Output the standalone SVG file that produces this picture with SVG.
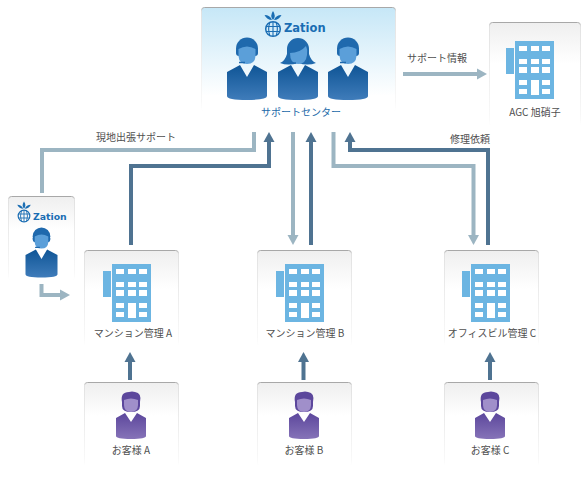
<svg xmlns="http://www.w3.org/2000/svg" xmlns:xlink="http://www.w3.org/1999/xlink" width="586" height="479" viewBox="0 0 586 479">
<style>
text{font-family:"Noto Sans CJK JP","Liberation Sans",sans-serif;font-size:10px;fill:#4f4f4f;text-anchor:middle}
text.logo{font-family:"DejaVu Sans",sans-serif;font-weight:bold;fill:#1a6db3;text-anchor:start}
.l{fill:none;stroke:#9cb5c2;stroke-width:4}
.d{fill:none;stroke:#4f7391;stroke-width:4}
.lh{fill:#9cb5c2}
.dh{fill:#4f7391}
.w{fill:#fff}
</style>
<defs>
<linearGradient id="card" x1="0" y1="0" x2="0" y2="1"><stop offset="0" stop-color="#efefef"/><stop offset=".4" stop-color="#fff"/></linearGradient>
<linearGradient id="edge" x1="0" y1="0" x2="0" y2="1"><stop offset="0" stop-color="#a8a8a8"/><stop offset=".04" stop-color="#e2e2e2"/><stop offset=".9" stop-color="#f8f8f8"/><stop offset="1" stop-color="#fff"/></linearGradient>
<linearGradient id="blue" x1="0" y1="0" x2="0" y2="1"><stop offset="0" stop-color="#c6e7f7"/><stop offset=".85" stop-color="#fff"/></linearGradient>
<linearGradient id="bb" x1="0" y1="0" x2="0" y2="1"><stop offset="0" stop-color="#0f5596"/><stop offset="1" stop-color="#3f7cba"/></linearGradient>
<linearGradient id="pb" x1="0" y1="0" x2="0" y2="1"><stop offset="0" stop-color="#5c479c"/><stop offset="1" stop-color="#8673b8"/></linearGradient>
<g id="bld">
<rect x="-9" y="7" width="8" height="26" fill="#6cb5e2"/>
<rect width="39" height="58" fill="#6cb5e2"/>
<g class="w">
<rect x="4" y="5" width="8" height="5"/><rect x="16" y="5" width="8" height="5"/><rect x="27" y="5" width="8" height="5"/>
<rect x="4" y="18" width="8" height="5"/><rect x="16" y="18" width="8" height="5"/><rect x="27" y="18" width="8" height="5"/>
<rect x="4" y="26" width="8" height="6"/><rect x="16" y="26" width="8" height="6"/><rect x="27" y="26" width="8" height="6"/>
<rect x="4" y="39" width="8" height="5"/><rect x="27" y="39" width="8" height="5"/>
<rect x="4" y="48" width="8" height="5"/><rect x="27" y="48" width="8" height="5"/>
<rect x="16" y="39" width="8" height="15"/>
</g>
</g>
<g id="body">
<path d="M-7 28L-20 35V59Q-20 63 0 63Q20 63 20 59V35L7 28L0 40Z" fill="url(#bb)"/>
</g>
<g id="man">
<use xlink:href="#body"/>
<circle cx="0" cy="11.500" r="11" fill="#1f69ad"/>
<rect x="-11" y="11" width="22" height="8" rx="3" fill="#1f69ad"/>
<path d="M-8.500 12Q0 7 8.500 12V19Q8 27 0 27Q-8 27-8.500 19Z" fill="#5b9fd9"/>
<path d="M-2 25.500H-8" stroke="#1f69ad" stroke-width="1.500"/>
</g>
<g id="woman">
<use xlink:href="#body"/>
<path d="M-11 12A11 11 0 0 1 11 12V17Q13 24 18 26Q10 29 0 26Q-10 29-18 26Q-13 24-11 17Z" fill="#1f69ad"/>
<path d="M-8 16Q2 16 8 9Q10 13 9 18Q8 27 0 27Q-8 27-8 16Z" fill="#5b9fd9"/>
<path d="M-2 26H-8" stroke="#1f69ad" stroke-width="1.500"/>
</g>
<g id="cust">
<path d="M-6 21L-15 26V44Q-15 47 0 47Q15 47 15 44V26L6 21L0 30Z" fill="url(#pb)"/>
<path d="M-9 10Q-11 0 -2 0Q1-1 4 0Q11 1 9 10V14Q9 20 0 20Q-9 20-9 14Z" fill="#5c479c"/>
<path d="M-7 8Q0 5 7 8V13Q7 20 0 20Q-7 20-7 13Z" fill="#a08fca"/>
</g>
<g id="globe">
<circle r="7.300" fill="none" stroke="#1a6db3" stroke-width="1.500"/>
<path d="M-7-2.500H7M-7 2.500H7M0-7V7M-3.200-6.500Q-5.500 0-3.200 6.500M3.200-6.500Q5.500 0 3.200 6.500" fill="none" stroke="#1a6db3" stroke-width="1.100"/>
<path d="M0-9Q-3.500-13 0-18Q3.500-13 0-9ZM-1-9Q-6-9-8.500-14Q-3-14-1-9ZM1-9Q6-9 8.500-14Q3-14 1-9Z" fill="#1a6db3"/>
</g>
</defs>

<g id="connectors">
<path class="l" d="M254 132V150H42V193"/>
<path class="d" d="M131 245V166H269V140"/><path class="dh" d="M263.500 142L269 132L274.500 142Z"/>
<path class="l" d="M293 132V237"/><path class="lh" d="M287.500 235L293 245L298.500 235Z"/>
<path class="d" d="M311 245V140"/><path class="dh" d="M305.500 142L311 132L316.500 142Z"/>
<path class="l" d="M333.500 132V166H473.500V237"/><path class="lh" d="M468 235L473.500 245L479 235Z"/>
<path class="d" d="M488 245V150H350V140"/><path class="dh" d="M344.500 142L350 132L355.500 142Z"/>
<path class="l" d="M403 74H479"/><path class="lh" d="M477 68.500L487 74L477 79.500Z"/>
<path class="l" d="M41.500 284V295H62"/><path class="lh" d="M60 289.500L70 295L60 300.500Z"/>
<path class="d" d="M130 380V360"/><path class="dh" d="M124.500 362L130 352L135.500 362Z"/>
<path class="d" d="M303.500 380V360"/><path class="dh" d="M298 362L303.500 352L309 362Z"/>
<path class="d" d="M490 380V360"/><path class="dh" d="M484.500 362L490 352L495.500 362Z"/>
</g>

<g id="center">
<rect x="201.500" y="7.500" width="194" height="104" rx="3" fill="url(#blue)" stroke="url(#edge)"/>
<use xlink:href="#globe" transform="translate(273 29)"/>
<text class="logo" x="284" y="32" style="font-size:11.500px">Zation</text>
<use xlink:href="#man" transform="translate(247 37)"/>
<use xlink:href="#woman" transform="translate(298 37)"/>
<use xlink:href="#man" transform="translate(348 37)"/>
<text x="301" y="116" style="fill:#1a68a8">サポートセンター</text>
</g>
<g id="agc">
<rect x="489.500" y="22.500" width="91" height="104" rx="3" fill="url(#card)" stroke="url(#edge)"/>
<use xlink:href="#bld" transform="translate(515 41)"/>
<text x="535" y="116">AGC 旭硝子</text>
</g>
<g id="field">
<rect x="8.500" y="196.500" width="66" height="84" rx="3" fill="url(#card)" stroke="url(#edge)"/>
<use xlink:href="#globe" transform="translate(24 216) scale(.8)"/>
<text class="logo" x="33" y="219.500" style="font-size:9.300px">Zation</text>
<use xlink:href="#man" transform="translate(41.500 227) scale(.8)"/>
</g>
<g id="mgmtA">
<rect x="84.500" y="250.500" width="94" height="96" rx="3" fill="url(#card)" stroke="url(#edge)"/>
<use xlink:href="#bld" transform="translate(112 264)"/>
<text x="133" y="337">マンション管理 A</text>
</g>
<g id="mgmtB">
<rect x="257.500" y="250.500" width="94" height="96" rx="3" fill="url(#card)" stroke="url(#edge)"/>
<use xlink:href="#bld" transform="translate(285 264)"/>
<text x="305" y="337">マンション管理 B</text>
</g>
<g id="mgmtC">
<rect x="444.500" y="250.500" width="94" height="96" rx="3" fill="url(#card)" stroke="url(#edge)"/>
<use xlink:href="#bld" transform="translate(471 264)"/>
<text x="492" y="337">オフィスビル管理 C</text>
</g>
<g id="custA">
<rect x="84.500" y="382.500" width="94" height="84" rx="3" fill="url(#card)" stroke="url(#edge)"/>
<use xlink:href="#cust" transform="translate(131 392)"/>
<text x="131" y="454">お客様 A</text>
</g>
<g id="custB">
<rect x="257.500" y="382.500" width="94" height="84" rx="3" fill="url(#card)" stroke="url(#edge)"/>
<use xlink:href="#cust" transform="translate(304 392)"/>
<text x="304" y="454">お客様 B</text>
</g>
<g id="custC">
<rect x="444.500" y="382.500" width="94" height="84" rx="3" fill="url(#card)" stroke="url(#edge)"/>
<use xlink:href="#cust" transform="translate(490 392)"/>
<text x="490" y="454">お客様 C</text>
</g>
<g id="labels">
<text x="136" y="141">現地出張サポート</text>
<text x="437" y="62">サポート情報</text>
<text x="470" y="143">修理依頼</text>
</g>
</svg>
